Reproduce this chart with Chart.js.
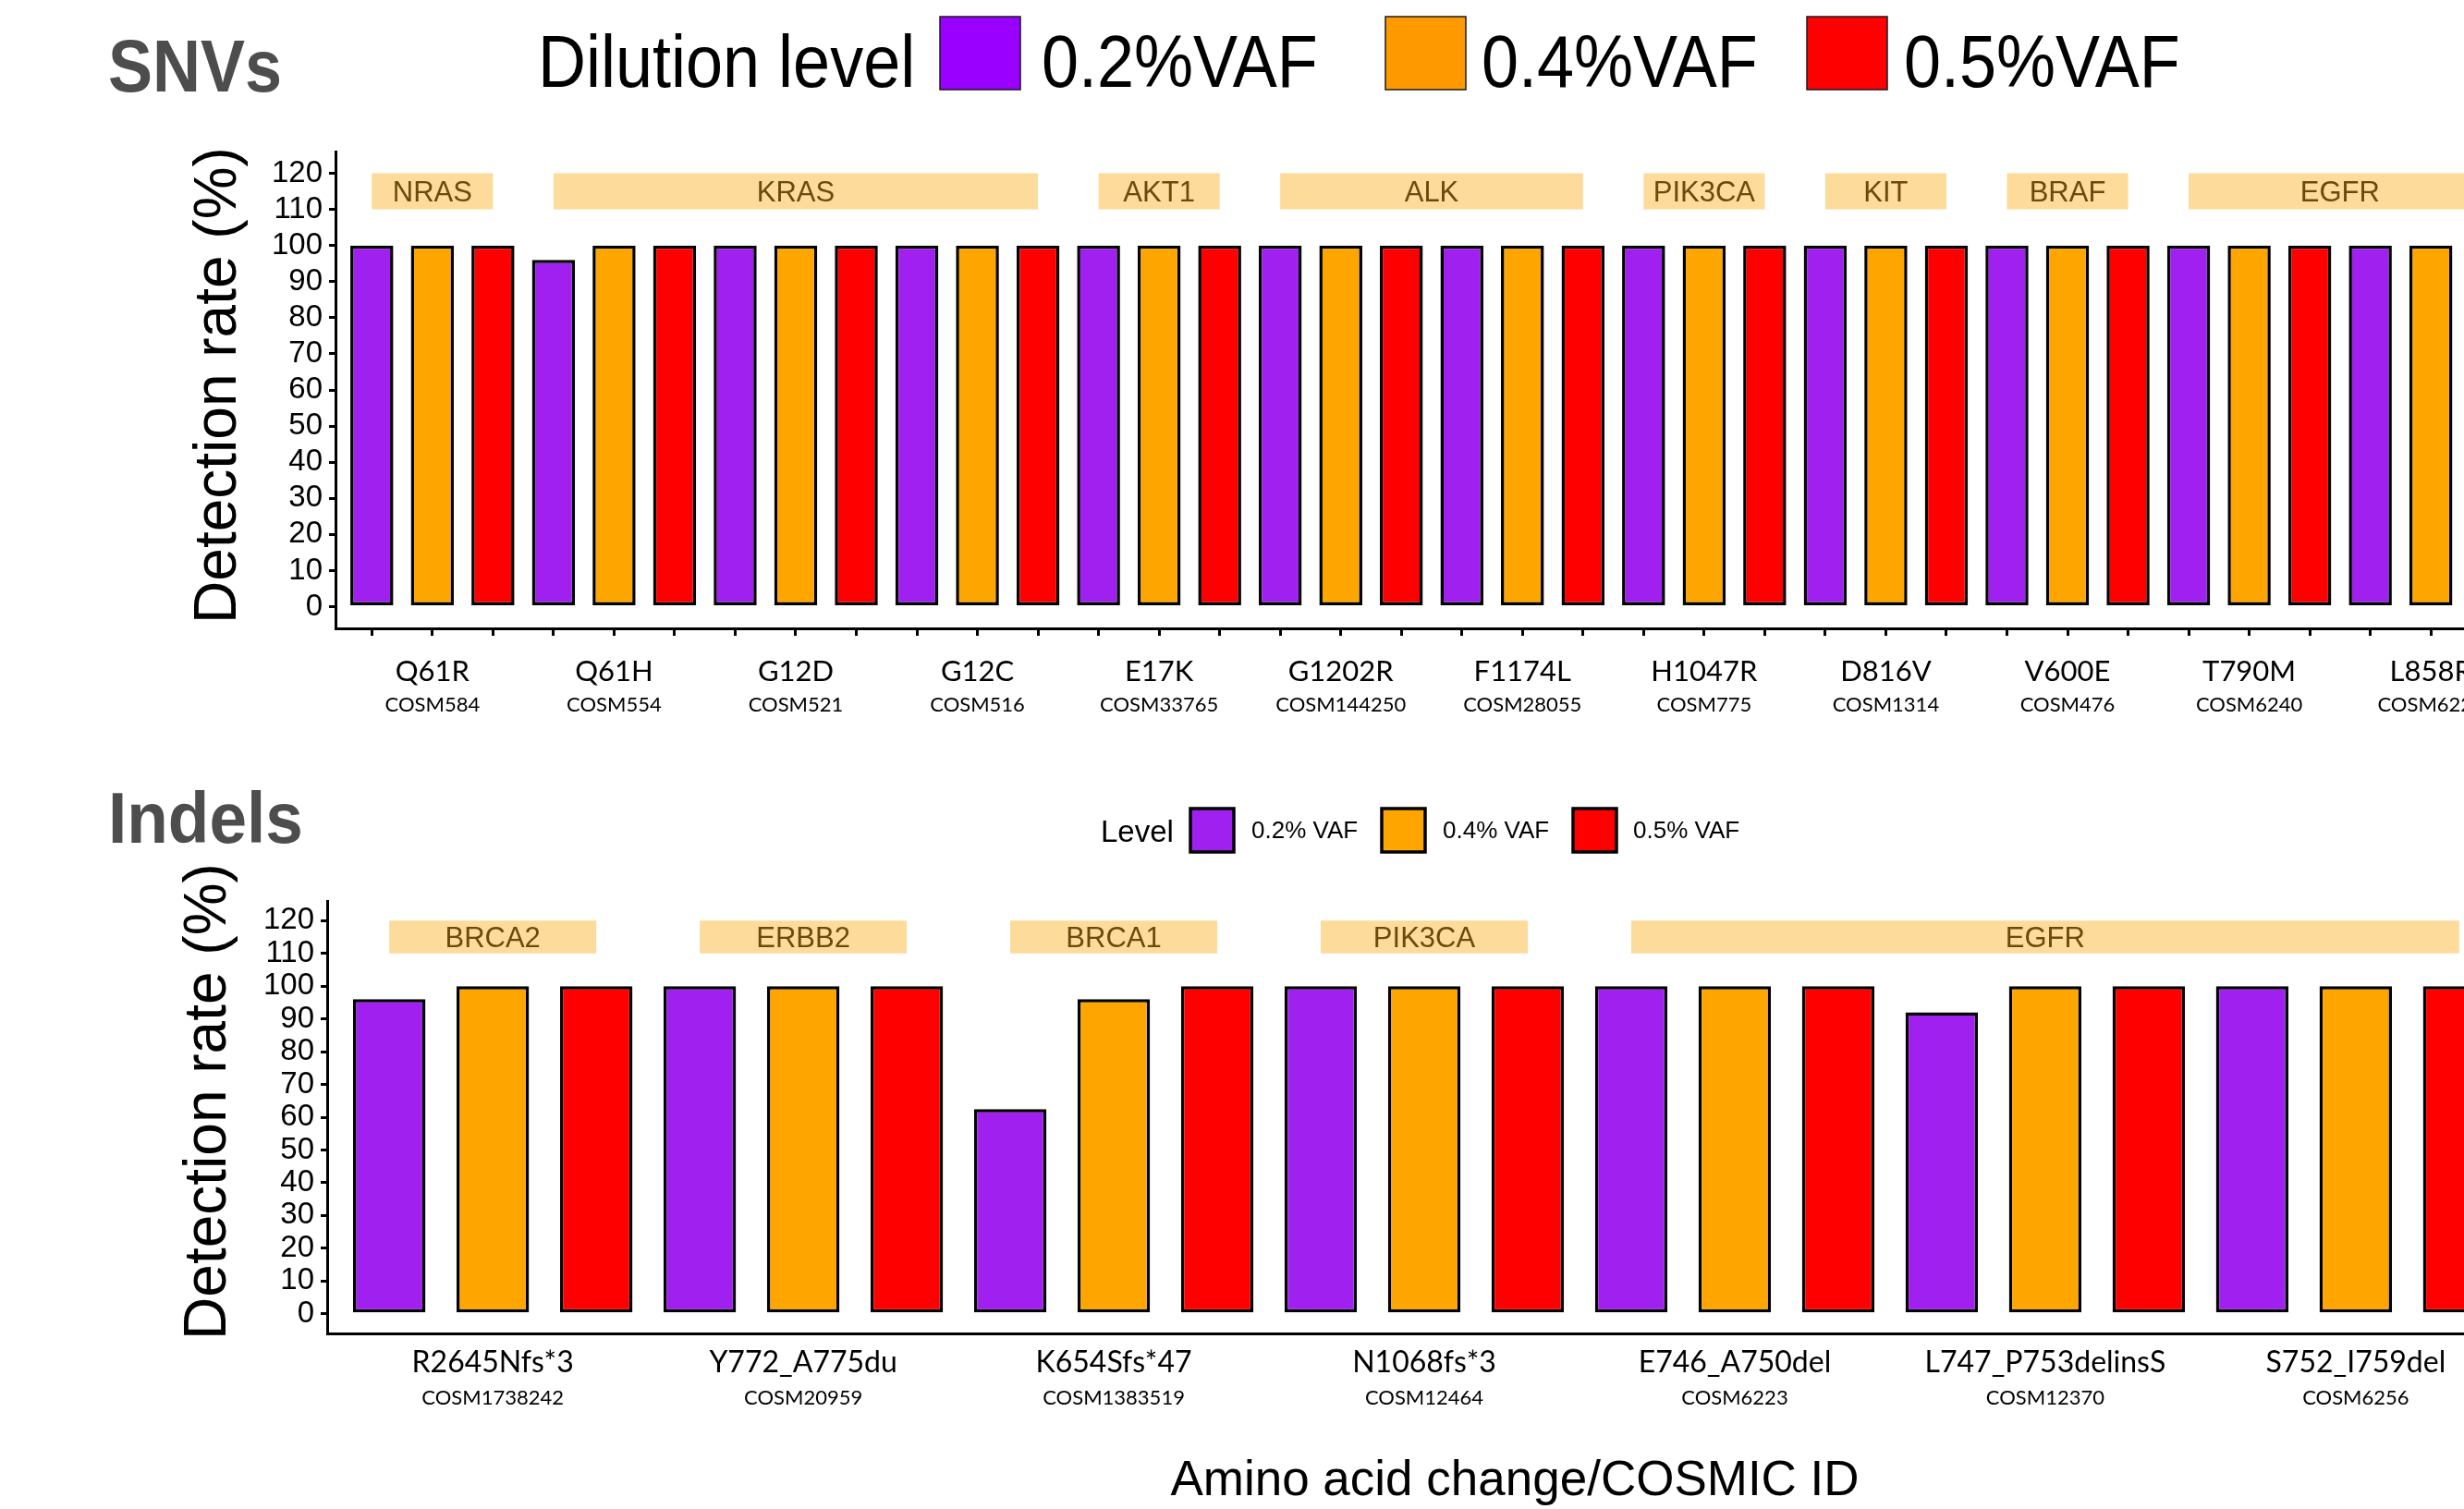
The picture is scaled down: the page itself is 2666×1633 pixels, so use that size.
<!DOCTYPE html>
<html>
<head>
<meta charset="utf-8">
<script src="https://cdn.jsdelivr.net/npm/chart.js@4.4.0/dist/chart.umd.min.js"></script>
<style>
  html, body { margin: 0; padding: 0; background: #fff; overflow: hidden; width: 2666px; height: 1633px; }
  canvas { position: absolute; left: 0; }
  #snv { top: 0; }
  #indel { top: 800px; }
</style>
</head>
<body>
<canvas id="snv" width="2760" height="800"></canvas>
<canvas id="indel" width="2760" height="833"></canvas>
<script>
// ---- data ----
const levelNames = ['0.2%VAF', '0.4%VAF', '0.5%VAF'];
const levelNamesSmall = ['0.2% VAF', '0.4% VAF', '0.5% VAF'];
const yTicks = [0, 10, 20, 30, 40, 50, 60, 70, 80, 90, 100, 110, 120];

const snvMutations = ['Q61R', 'Q61H', 'G12D', 'G12C', 'E17K', 'G1202R', 'F1174L', 'H1047R', 'D816V', 'V600E', 'T790M', 'L858R'];
const snvCosmic = ['COSM584', 'COSM554', 'COSM521', 'COSM516', 'COSM33765', 'COSM144250', 'COSM28055', 'COSM775', 'COSM1314', 'COSM476', 'COSM6240', 'COSM6224'];
const snvGenes = ['NRAS', 'KRAS', 'KRAS', 'KRAS', 'AKT1', 'ALK', 'ALK', 'PIK3CA', 'KIT', 'BRAF', 'EGFR', 'EGFR'];
const snv02 = [100, 96, 100, 100, 100, 100, 100, 100, 100, 100, 100, 100];
const snv04 = [100, 100, 100, 100, 100, 100, 100, 100, 100, 100, 100, 100];
const snv05 = [100, 100, 100, 100, 100, 100, 100, 100, 100, 100, 100, 100];

const indelMutations = ['R2645Nfs*3', 'Y772_A775du', 'K654Sfs*47', 'N1068fs*3', 'E746_A750del', 'L747_P753delinsS', 'S752_I759del'];
const indelCosmic = ['COSM1738242', 'COSM20959', 'COSM1383519', 'COSM12464', 'COSM6223', 'COSM12370', 'COSM6256'];
const indelGenes = ['BRCA2', 'ERBB2', 'BRCA1', 'PIK3CA', 'EGFR', 'EGFR', 'EGFR'];
const indel02 = [96, 100, 62.5, 100, 100, 92, 100];
const indel04 = [100, 100, 96, 100, 100, 100, 100];
const indel05 = [100, 100, 100, 100, 100, 100, 100];

// ---- styles ----
const barColors = ['#a020f0', '#ffa500', '#ff0000'];
const topLegendColors = ['#9900ff', '#ff9900', '#ff0000'];
const geneFill = '#fddb9a';
const geneInk = '#6b4a10';
const SANS = '"Liberation Sans", Arial, sans-serif';
const HUMAN = 'Lato, "Open Sans", sans-serif';

function text(ctx, str, x, y, font, color, align, sy) {
  ctx.save();
  ctx.font = font;
  ctx.fillStyle = color;
  ctx.textAlign = align || 'left';
  ctx.textBaseline = 'alphabetic';
  ctx.translate(x, y);
  ctx.scale(1, sy || 1);
  ctx.fillText(str, 0, 0);
  ctx.restore();
}

function geneRuns(genes) {
  const runs = [];
  genes.forEach((g, i) => {
    const last = runs[runs.length - 1];
    if (last && last.name === g) last.to = i;
    else runs.push({ name: g, from: i, to: i });
  });
  return runs;
}

// one bar per mutation x level, laid out side by side
function barPoints(a, b, c) {
  const pts = [];
  a.forEach((v, i) => {
    pts.push({ x: i * 3, y: v }, { x: i * 3 + 1, y: b[i] }, { x: i * 3 + 2, y: c[i] });
  });
  return pts;
}

function decor(p) {
  return {
    id: 'decor',
    afterDatasetsDraw(chart) {
      const ctx = chart.ctx, xs = chart.scales.x, ys = chart.scales.y;
      const base = chart.chartArea.bottom;

      // gene boxes over the bars
      geneRuns(p.genes).forEach(g => {
        const x0 = xs.getPixelForValue(g.from * 3);
        const x1 = xs.getPixelForValue(g.to * 3 + 2);
        const yt = ys.getPixelForValue(120), yb = ys.getPixelForValue(110);
        ctx.fillStyle = geneFill;
        ctx.fillRect(x0, yt, x1 - x0, yb - yt);
        text(ctx, g.name, (x0 + x1) / 2, (yt + yb) / 2 + 11, '31px ' + SANS, geneInk, 'center');
      });

      // mutation / COSMIC labels under the middle bar of each triple
      p.mutations.forEach((m, i) => {
        const x = xs.getPixelForValue(i * 3 + 1);
        text(ctx, m, x, base + p.labOff[0], p.mutFont + 'px ' + HUMAN, '#000', 'center');
        text(ctx, p.cosmic[i], x, base + p.labOff[1], '22px ' + HUMAN, '#000', 'center');
      });

      // y-axis title
      ctx.save();
      ctx.translate(p.yTitle[0], p.yTitle[1]);
      ctx.rotate(-Math.PI / 2);
      text(ctx, 'Detection rate (%)', 0, 0, '64px ' + SANS, '#000', 'center');
      ctx.restore();

      p.extra(ctx);
    }
  };
}

function panel(id, p) {
  const n = p.mutations.length * 3;
  return new Chart(document.getElementById(id), {
    type: 'bar',
    data: {
      datasets: [{
        data: barPoints(p.v02, p.v04, p.v05),
        backgroundColor: c => barColors[c.dataIndex % 3],
        borderColor: '#000',
        borderWidth: 3.5,
        borderSkipped: false,
        barPercentage: p.barFrac,
        categoryPercentage: 1
      }]
    },
    options: {
      responsive: false,
      animation: false,
      devicePixelRatio: 1,
      layout: { padding: { top: p.area.top, right: p.canvasW - p.area.right, left: 0, bottom: 0 } },
      plugins: { legend: { display: false }, tooltip: { enabled: false } },
      scales: {
        x: {
          type: 'linear', min: -0.6, max: n - 0.4, offset: false,
          afterBuildTicks: s => { s.ticks = p.mutations.flatMap((m, i) => [i * 3, i * 3 + 1, i * 3 + 2]).map(v => ({ value: v })); },
          afterFit: s => { s.height = p.canvasH - p.area.bottom; },
          grid: { display: p.xTicks, offset: false, drawOnChartArea: false, drawTicks: true, tickLength: 8, color: '#000', lineWidth: 3 },
          border: { display: true, color: '#000', width: 3 },
          ticks: { display: false }
        },
        y: {
          min: -6, max: 126,
          afterBuildTicks: s => { s.ticks = yTicks.map(v => ({ value: v })); },
          afterFit: s => { s.width = p.area.left; },
          grid: { drawOnChartArea: false, drawTicks: true, tickLength: 7, color: '#000', lineWidth: 3 },
          border: { display: true, color: '#000', width: 3 },
          ticks: { font: { family: SANS, size: 33 }, color: '#000', padding: 7, autoSkip: false }
        }
      }
    },
    plugins: [decor(p)]
  });
}

panel('snv', {
  mutations: snvMutations, cosmic: snvCosmic, genes: snvGenes,
  v02: snv02, v04: snv04, v05: snv05,
  canvasW: 2760, canvasH: 800,
  area: { left: 363, right: 2735, top: 164, bottom: 680 },
  barFrac: 0.71, xTicks: true, mutFont: 31, labOff: [57, 90], yTitle: [255, 417],
  extra(ctx) {
    text(ctx, 'SNVs', 117, 99, 'bold 72px ' + SANS, '#4d4d4d', 'left', 1.1);
    text(ctx, 'Dilution level', 582, 94, '72px ' + SANS, '#000', 'left', 1.1);
    const boxX = [1017, 1499, 1955], labX = [1127, 1603, 2060];
    levelNames.forEach((name, i) => {
      ctx.fillStyle = topLegendColors[i];
      ctx.fillRect(boxX[i], 18, 87, 79);
      ctx.strokeStyle = '#1a1a1a';
      ctx.lineWidth = 1.5;
      ctx.strokeRect(boxX[i], 18, 87, 79);
      text(ctx, name, labX[i], 94, '72px ' + SANS, '#000', 'left', 1.1);
    });
  }
});

panel('indel', {
  mutations: indelMutations, cosmic: indelCosmic, genes: indelGenes,
  v02: indel02, v04: indel04, v05: indel05,
  canvasW: 2760, canvasH: 833,
  area: { left: 354, right: 2728, top: 175, bottom: 643 },
  barFrac: 0.7, xTicks: false, mutFont: 32, labOff: [42, 77], yTitle: [244, 392],
  extra(ctx) {
    text(ctx, 'Indels', 117, 112, 'bold 73px ' + SANS, '#4d4d4d', 'left', 1.07);
    text(ctx, 'Level', 1191, 111, '33px ' + SANS, '#000', 'left');
    const boxX = [1288, 1495, 1702], labX = [1354, 1561, 1767];
    levelNamesSmall.forEach((name, i) => {
      ctx.fillStyle = barColors[i];
      ctx.fillRect(boxX[i], 75, 47, 47);
      ctx.strokeStyle = '#000';
      ctx.lineWidth = 3.5;
      ctx.strokeRect(boxX[i], 75, 47, 47);
      text(ctx, name, labX[i], 107, '26px ' + SANS, '#000', 'left');
    });
    text(ctx, 'Amino acid change/COSMIC ID', 1639, 818, '53px ' + SANS, '#000', 'center');
  }
});
</script>
</body>
</html>
